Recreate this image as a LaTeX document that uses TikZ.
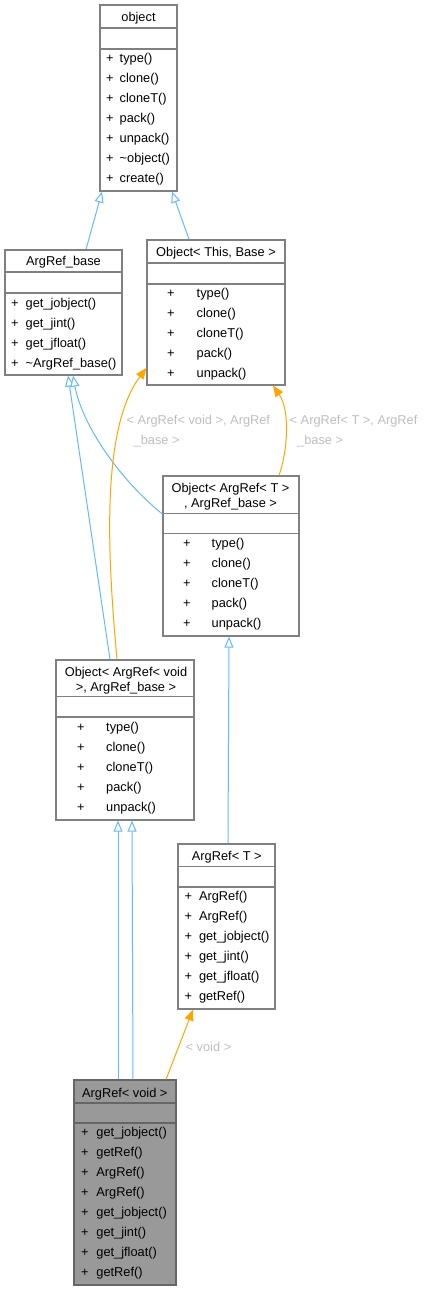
\documentclass[tikz,border=0pt]{standalone}
\usepackage{fontspec}
\setmainfont{Liberation Sans}
\usetikzlibrary{arrows.meta}
\definecolor{caixa}{HTML}{808080}
\definecolor{heranca}{HTML}{63B8FF}
\definecolor{laranja}{HTML}{FFA500}
\definecolor{rotulo}{HTML}{BEBEBE}
\definecolor{fundo}{HTML}{999999}
\definecolor{borda}{HTML}{666666}
\begin{document}
\begin{tikzpicture}[x=1pt, y=-1pt,
    font=\fontsize{12.8}{15}\selectfont,
    classe/.style={draw=caixa, line width=1.2pt, fill=white, inner sep=0pt},
    divisa/.style={draw=caixa, line width=1.2pt},
    titulo/.style={inner sep=0pt, align=center, yshift=-1.5pt},
    membro/.style={anchor=west, inner sep=0pt, text height=0.75em, text depth=0.25em, yshift=-1.5pt},
    heranca/.style={draw=heranca, line width=1pt, -{Triangle[open, fill=white, length=11pt, width=9pt]}},
    uso/.style={draw=laranja, line width=1pt, -{Triangle[fill=laranja, length=11pt, width=9pt]}},
    rot/.style={text=rotulo, anchor=west, inner sep=0pt, yshift=-1.5pt}]
    \useasboundingbox (0,0) rectangle (432,1291);

    % Classe object
    \node[classe, minimum width=77pt, minimum height=186pt] (object) at (138.5,98) {};
    \draw[divisa] (object.west |- 0,28) -- (object.east |- 0,28);
    \draw[divisa] (object.west |- 0,49) -- (object.east |- 0,49);
    \node[titulo] (object-t) at (138.5,17) {object};
    \foreach \m [count=\i] in {type(),clone(),cloneT(),pack(),unpack(),\textasciitilde object(),create()}{
        \node[membro] (object-p\i) at (106,38+20*\i) {+};
        \node[membro] (object-m\i) at (119.5,38+20*\i) {\m};
    }

    % Classe ArgRef_base
    \node[classe, minimum width=117pt, minimum height=125pt] (argbase) at (63.5,312.5) {};
    \draw[divisa] (argbase.west |- 0,272) -- (argbase.east |- 0,272);
    \draw[divisa] (argbase.west |- 0,293) -- (argbase.east |- 0,293);
    \node[titulo] (argbase-t) at (63.5,261) {ArgRef\_base};
    \foreach \m [count=\i] in {get\_jobject(),get\_jint(),get\_jfloat(),\textasciitilde ArgRef\_base()}{
        \node[membro] (argbase-p\i) at (11,283+20*\i) {+};
        \node[membro] (argbase-m\i) at (25.5,283+20*\i) {\m};
    }

    % Classe Object< This, Base >
    \node[classe, minimum width=138pt, minimum height=145pt] (objTB) at (216,312.5) {};
    \draw[divisa] (objTB.west |- 0,263) -- (objTB.east |- 0,263);
    \draw[divisa] (objTB.west |- 0,284) -- (objTB.east |- 0,284);
    \node[titulo] (objTB-t) at (216,252) {Object< This, Base >};
    \foreach \m [count=\i] in {type(),clone(),cloneT(),pack(),unpack()}{
        \node[membro] (objTB-p\i) at (167,273+20*\i) {+};
        \node[membro] (objTB-m\i) at (196.5,273+20*\i) {\m};
    }

    % Classe Object< ArgRef< T >, ArgRef_base >
    \node[classe, minimum width=136pt, minimum height=160pt] (objT) at (231,556) {};
    \draw[divisa] (objT.west |- 0,513.7) -- (objT.east |- 0,513.7);
    \draw[divisa] (objT.west |- 0,533.3) -- (objT.east |- 0,533.3);
    \node[titulo] (objT-t) at (230.5,495) {Object< ArgRef< T >\\, ArgRef\_base >};
    \foreach \m [count=\i] in {type(),clone(),cloneT(),pack(),unpack()}{
        \node[membro] (objT-p\i) at (183,523+20*\i) {+};
        \node[membro] (objT-m\i) at (211.5,523+20*\i) {\m};
    }

    % Classe Object< ArgRef< void >, ArgRef_base >
    \node[classe, minimum width=138pt, minimum height=160pt] (objV) at (125,740) {};
    \draw[divisa] (objV.west |- 0,696.7) -- (objV.east |- 0,696.7);
    \draw[divisa] (objV.west |- 0,717) -- (objV.east |- 0,717);
    \node[titulo] (objV-t) at (126,679) {Object< ArgRef< void\\>, ArgRef\_base >};
    \foreach \m [count=\i] in {type(),clone(),cloneT(),pack(),unpack()}{
        \node[membro] (objV-p\i) at (77,707+20*\i) {+};
        \node[membro] (objV-m\i) at (106,707+20*\i) {\m};
    }

    % Classe ArgRef< T >
    \node[classe, minimum width=97pt, minimum height=165pt] (argT) at (226.5,926.5) {};
    \draw[divisa] (argT.west |- 0,866.7) -- (argT.east |- 0,866.7);
    \draw[divisa] (argT.west |- 0,887) -- (argT.east |- 0,887);
    \node[titulo] (argT-t) at (226.8,855.5) {ArgRef< T >};
    \foreach \m [count=\i] in {ArgRef(),ArgRef(),get\_jobject(),get\_jint(),get\_jfloat(),getRef()}{
        \node[membro] (argT-p\i) at (184.5,876+20*\i) {+};
        \node[membro] (argT-m\i) at (198.8,876+20*\i) {\m};
    }

    % Classe ArgRef< void > (destacada)
    \node[classe, draw=borda, fill=fundo, minimum width=102pt, minimum height=205pt] (argV) at (125,1182.5) {};
    \draw[divisa, draw=borda] (argV.west |- 0,1103) -- (argV.east |- 0,1103);
    \draw[divisa, draw=borda] (argV.west |- 0,1123) -- (argV.east |- 0,1123);
    \node[titulo] (argV-t) at (124.8,1092.3) {ArgRef< void >};
    \foreach \m [count=\i] in {get\_jobject(),getRef(),ArgRef(),ArgRef(),get\_jobject(),get\_jint(),get\_jfloat(),getRef()}{
        \node[membro] (argV-p\i) at (81,1112+20*\i) {+};
        \node[membro] (argV-m\i) at (96.2,1112+20*\i) {\m};
    }

    % Heranca
    \draw[heranca] (argbase.north -| 86,0) -- (object.south -| 102,0);
    \draw[heranca] (objTB.north -| 189,0) -- (object.south -| 172,0);
    \draw[heranca] (objV.north -| 110,0) -- (argbase.south -| 68,0);
    \draw[heranca] (objT.west |- 0,514) .. controls (120,480) and (82,425) .. (argbase.south -| 73,0);
    \draw[heranca] (argT.north -| 228,0) -- (objT.south -| 229,0);
    \draw[heranca] (argV.north -| 118,0) -- (objV.south -| 118,0);
    \draw[heranca] (argV.north -| 133,0) -- (objV.south -| 132,0);

    % Instanciacao de templates
    \draw[uso] (objV.north -| 117,0) .. controls (108,560) and (100,430) .. (objTB.west |- 0,368);
    \draw[uso] (objT.north -| 279,0) .. controls (288,450) and (290,410) .. (objTB.south -| 273,0);
    \draw[uso] (argV.north -| 166,0) -- (argT.south -| 193,0);

    % Rotulos
    \node[rot] (rotV1) at (126.5,420) {< ArgRef< void >, ArgRef};
    \node[rot] (rotV2) at (133.5,440) {\_base >};
    \node[rot] (rotT1) at (289.5,420) {< ArgRef< T >, ArgRef};
    \node[rot] (rotT2) at (297,440) {\_base >};
    \node[rot] (rotvoid) at (185.5,1045) {< void >};
\end{tikzpicture}
\end{document}
